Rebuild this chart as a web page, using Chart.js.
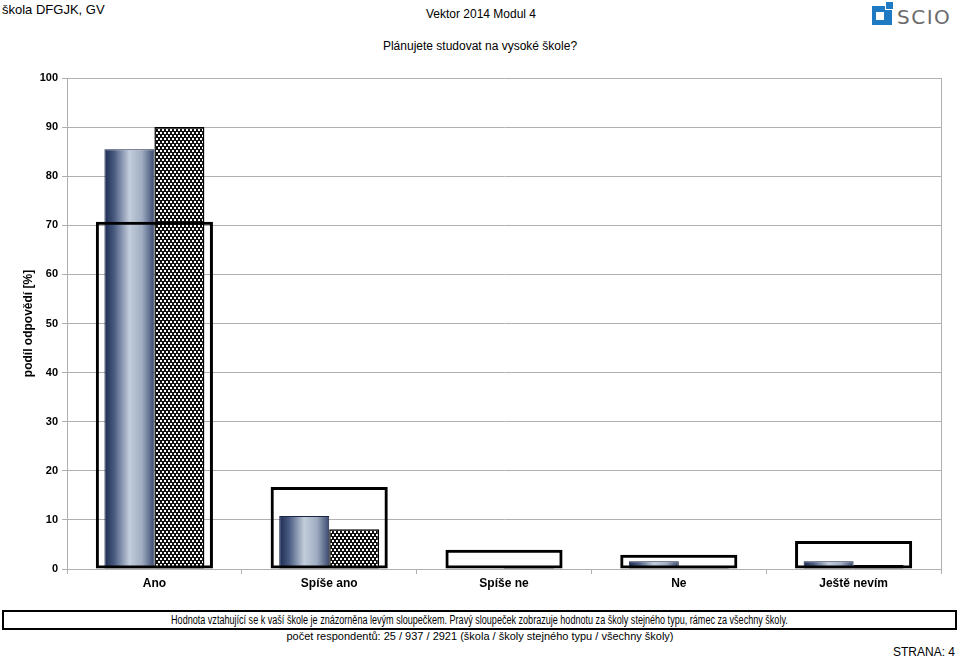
<!DOCTYPE html>
<html>
<head>
<meta charset="utf-8">
<script src="https://cdn.jsdelivr.net/npm/chart.js@4"></script>
<style>
  body { margin: 0; width: 960px; height: 659px; position: relative; background: #fff; font-family: "Liberation Sans", Arial, sans-serif; overflow: hidden; }
  .abs { position: absolute; white-space: nowrap; }
  #school { left: 2px; top: 2px; font-size: 13px; }
  #modul { left: 0; width: 962px; text-align: center; top: 7px; font-size: 12px; }
  #title { left: 0; width: 960px; text-align: center; top: 39px; font-size: 12px; }
  #logo { left: 872px; top: 5px; height: 20px; display: flex; align-items: flex-end; }
  #logo .sq { width: 20px; height: 19px; background: #1f7ac4; position: relative; margin-right: 5px; }
  #logo .sq::before { content: ""; position: absolute; left: 4px; top: 6px; width: 8px; height: 8px; background: #fff; }
  #logo .dot { position: absolute; left: 13px; top: -4px; width: 7px; height: 7px; background: #1f7ac4; border-left: 1px solid #fff; border-bottom: 1px solid #fff; }
  #logo .txt { font-size: 20px; color: #6b6b6b; letter-spacing: 1.5px; line-height: 16px; font-family: "DejaVu Sans", sans-serif; }
  #wrap { position: absolute; left: 0; top: 0; width: 960px; height: 600px; }
  #note { left: 2px; top: 610px; width: 951px; height: 16px; border: 2px solid #000; text-align: center; font-size: 12px; line-height: 16px; }
  #note span { display: inline-block; transform: scaleX(0.755); transform-origin: center; }
  #resp { left: 0; width: 960px; text-align: center; top: 630px; font-size: 11px; }
  #page { right: 5px; top: 645px; font-size: 12px; }
</style>
</head>
<body>
<div class="abs" id="school">škola DFGJK, GV</div>
<div class="abs" id="modul">Vektor 2014 Modul 4</div>
<div class="abs" id="title">Plánujete studovat na vysoké škole?</div>
<div class="abs" id="logo"><div class="sq"><div class="dot"></div></div><span class="txt">SCIO</span></div>
<div id="wrap"><canvas id="chart"></canvas></div>
<div class="abs" id="note"><span>Hodnota vztahující se k vaší škole je znázorněna levým sloupečkem. Pravý sloupeček zobrazuje hodnotu za školy stejného typu, rámec za všechny školy.</span></div>
<div class="abs" id="resp">počet respondentů: 25 / 937 / 2921 (škola / školy stejného typu / všechny školy)</div>
<div class="abs" id="page">STRANA: 4</div>
<script>
// --- Data ---
const categories = ['Ano', 'Spíše ano', 'Spíše ne', 'Ne', 'Ještě nevím'];
const schoolValues = [85.5, 10.8, 0, 1.6, 1.6];       // vaše škola (levý sloupec)
const sameTypeValues = [90.0, 8.1, 0.4, 0.4, 0.8];    // školy stejného typu (pravý)
const allSchoolsValues = [70.7, 16.7, 3.9, 2.9, 5.7]; // všechny školy (rámec)
const yTicks = [0, 10, 20, 30, 40, 50, 60, 70, 80, 90, 100];

const BAR_CAT = 0.572;
const FRAME_CAT = 0.67;

// checkered pattern for the right bar
function makeChecker() {
    const c = document.createElement('canvas');
    c.width = 4; c.height = 6;
    const g = c.getContext('2d');
    g.fillStyle = '#111';
    g.fillRect(0, 0, 4, 6);
    g.fillStyle = '#fff';
    g.fillRect(0, 0, 2, 2);
    g.fillRect(2, 3, 2, 2);
    return g.createPattern(c, 'repeat');
}
const checker = makeChecker();

// cylinder-like gradient for the left bar
function cylinder(ctx) {
    const chart = ctx.chart;
    const area = chart.chartArea;
    if (!area) return '#3b4b70';
    const catW = (area.right - area.left) / categories.length;
    const center = area.left + catW * (ctx.dataIndex + 0.5);
    const x0 = center - catW * BAR_CAT / 2;
    const grad = chart.ctx.createLinearGradient(x0, 0, center, 0);
    grad.addColorStop(0, '#1b2a52');
    grad.addColorStop(0.2, '#4a5c82');
    grad.addColorStop(0.5, '#c3cddb');
    grad.addColorStop(0.75, '#a0adc2');
    grad.addColorStop(1, '#3a4a70');
    return grad;
}

const rightBorder = {
    id: 'rightBorder',
    afterDraw(chart) {
        const { ctx, chartArea } = chart;
        ctx.save();
        ctx.strokeStyle = '#b0b0b0';
        ctx.lineWidth = 1;
        ctx.beginPath();
        ctx.moveTo(chartArea.right + 0.5, chartArea.top);
        ctx.lineTo(chartArea.right + 0.5, chartArea.bottom);
        ctx.stroke();
        ctx.restore();
    }
};

new Chart(document.getElementById('chart'), {
    type: 'bar',
    data: {
        labels: categories,
        datasets: [
            {
                label: 'všechny školy',
                data: allSchoolsValues,
                grouped: false,
                backgroundColor: 'rgba(0,0,0,0)',
                borderColor: '#000',
                borderWidth: 3,
                borderSkipped: false,
                categoryPercentage: FRAME_CAT,
                barPercentage: 1,
                order: 0
            },
            {
                label: 'vaše škola',
                data: schoolValues,
                backgroundColor: cylinder,
                borderColor: '#1a2545',
                borderWidth: 1,
                borderSkipped: false,
                categoryPercentage: BAR_CAT,
                barPercentage: 1,
                order: 1
            },
            {
                label: 'školy stejného typu',
                data: sameTypeValues,
                backgroundColor: checker,
                borderColor: '#000',
                borderWidth: 1.5,
                borderSkipped: false,
                categoryPercentage: BAR_CAT,
                barPercentage: 1,
                order: 2
            }
        ]
    },
    options: {
        responsive: true,
        maintainAspectRatio: false,
        animation: false,
        layout: { padding: { top: 78, right: 19, left: 0, bottom: 0 } },
        plugins: { legend: { display: false }, tooltip: { enabled: false } },
        scales: {
            x: {
                grid: { drawOnChartArea: false, color: '#b0b0b0', tickLength: 5 },
                border: { color: '#b0b0b0' },
                ticks: { color: '#000', font: { family: 'Liberation Sans', size: 12, weight: 'bold' }, padding: 2 },
                afterFit: s => { s.height = 31; }
            },
            y: {
                min: 0,
                max: 100,
                afterBuildTicks: s => { s.ticks = yTicks.map(v => ({ value: v })); },
                grid: { color: '#b0b0b0', tickLength: 5 },
                border: { color: '#b0b0b0' },
                ticks: { color: '#000', font: { family: 'Liberation Sans', size: 11, weight: 'bold' }, padding: 4 },
                title: { display: true, text: 'podíl odpovědí [%]', color: '#000', font: { family: 'Liberation Sans', size: 12, weight: 'bold' }, padding: { top: 21, bottom: 0 } },
                afterFit: s => { s.width = 67; }
            }
        }
    },
    plugins: [rightBorder]
});
</script>
</body>
</html>
